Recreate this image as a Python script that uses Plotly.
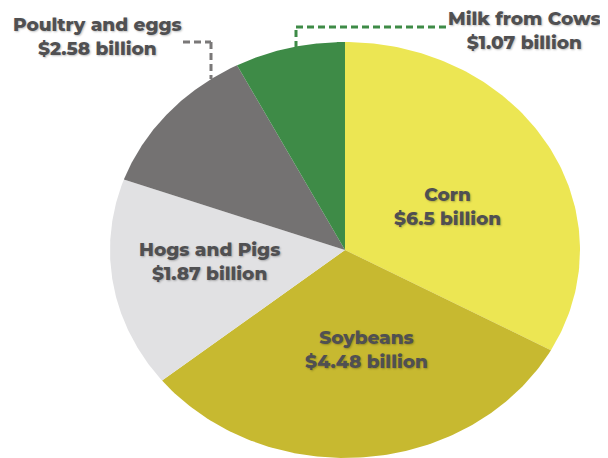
import numpy as np
import plotly.graph_objects as go

# ---- data ----
categories = ["Corn", "Soybeans", "Hogs and Pigs", "Poultry and eggs", "Milk from Cows"]
value_billions = [6.5, 4.48, 1.87, 2.58, 1.07]          # labelled values
slice_share = [33.0, 31.2, 16.3, 11.9, 7.6]             # drawn slice sizes (%) as seen in the picture
value_labels = ["$6.5 billion", "$4.48 billion", "$1.87 billion", "$2.58 billion", "$1.07 billion"]

# ---- styles ----
colors = ["#ece653", "#c7b930", "#e1e1e3", "#747272", "#3e8b47"]
text_color = "#505052"
W, H = 608, 458
OFF = 8                                   # page body margin offset
CX, CY, RX, RY = 345 - OFF, 250 - OFF, 235, 208   # pie centre / radii in pixels

fig = go.Figure()

# wedges computed from cumulative shares (clockwise from 12 o'clock)
total = sum(slice_share)
start = 0.0
for name, share, col, val in zip(categories, slice_share, colors, value_billions):
    end = start + share / total * 360.0
    th = np.radians(np.linspace(start, end, 120))
    xs = np.concatenate([[0.0], np.sin(th), [0.0]])
    ys = np.concatenate([[0.0], np.cos(th), [0.0]])
    fig.add_trace(go.Scatter(
        x=xs, y=ys, mode="lines", fill="toself", fillcolor=col,
        line=dict(width=0, color=col), name=name,
        hoverinfo="text", hoveron="fills",
        text=f"{name}: ${val} billion",
    ))
    start = end

def px(x):
    return (x - OFF) / W

def py(y):
    return 1 - (y - OFF) / H

label_pos = {
    "Corn": (447, 207),
    "Soybeans": (366, 349),
    "Hogs and Pigs": (209, 261),
    "Poultry and eggs": (97, 37),
    "Milk from Cows": (524, 30),
}

font = dict(family="Montserrat, 'Open Sans', Lato, sans-serif", size=18.5, color=text_color,
            weight=800, shadow="1px 1px 2px rgba(0,0,0,0.25)")
annotations = []
for name, lab in zip(categories, value_labels):
    x, y = label_pos[name]
    annotations.append(dict(
        x=px(x), y=py(y), xref="paper", yref="paper",
        text=f"{name}<br>{lab}", showarrow=False, align="center",
        font=font, xanchor="center", yanchor="middle", borderpad=0,
    ))

dash = "7px,4px"
shapes = [
    # poultry leader
    dict(type="line", xref="paper", yref="paper", x0=px(183), y0=py(42), x1=px(211), y1=py(42),
         line=dict(color="#7a7878", width=3, dash=dash)),
    dict(type="line", xref="paper", yref="paper", x0=px(211), y0=py(42), x1=px(211), y1=py(79),
         line=dict(color="#7a7878", width=3, dash=dash)),
    # milk leader
    dict(type="line", xref="paper", yref="paper", x0=px(296), y0=py(48), x1=px(296), y1=py(27),
         line=dict(color="#3e8b47", width=3, dash=dash)),
    dict(type="line", xref="paper", yref="paper", x0=px(296), y0=py(27), x1=px(446), y1=py(27),
         line=dict(color="#3e8b47", width=3, dash=dash)),
]

fig.update_layout(
    width=W, height=H,
    margin=dict(l=0, r=0, t=0, b=0),
    paper_bgcolor="white", plot_bgcolor="white",
    showlegend=False,
    xaxis=dict(range=[-CX / RX, (W - CX) / RX], visible=False, fixedrange=True),
    yaxis=dict(range=[-(H - CY) / RY, CY / RY], visible=False, fixedrange=True),
    annotations=annotations,
    shapes=shapes,
)

fig.write_html("out.html")
